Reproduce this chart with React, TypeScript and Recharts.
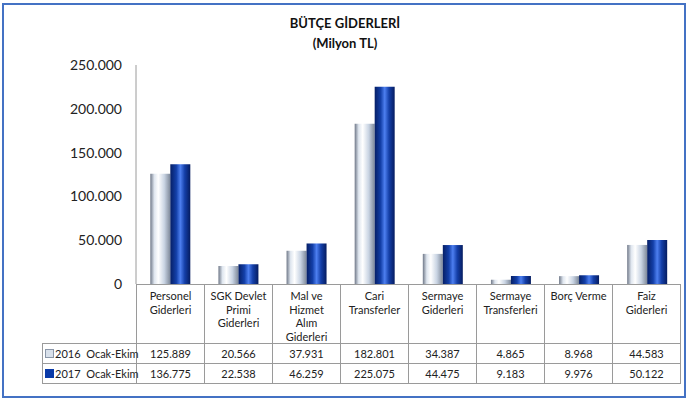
import React from "react"
import { BarChart, Bar, XAxis, YAxis } from "recharts"

const categories = [
  "Personel\nGiderleri",
  "SGK Devlet\nPrimi\nGiderleri",
  "Mal ve\nHizmet\nAlım\nGiderleri",
  "Cari\nTransferler",
  "Sermaye\nGiderleri",
  "Sermaye\nTransferleri",
  "Borç Verme",
  "Faiz\nGiderleri",
]
const values2016 = [125889, 20566, 37931, 182801, 34387, 4865, 8968, 44583]
const values2017 = [136775, 22538, 46259, 225075, 44475, 9183, 9976, 50122]
const seriesNames = ["2016  Ocak-Ekim", "2017  Ocak-Ekim"]
const yTicks = [0, 50000, 100000, 150000, 200000, 250000]

const FONT = "Lato, 'Open Sans', sans-serif"
const GRID = "#9a9a9a"

function fmt(v: number) {
  return String(v).replace(/\B(?=(\d{3})+(?!\d))/g, ".")
}

const data = categories.map((c, i) => ({ name: c, y2016: values2016[i], y2017: values2017[i] }))

const cell: React.CSSProperties = {
  border: `1px solid ${GRID}`,
  textAlign: "center",
  padding: 0,
  fontSize: 11,
  color: "#222",
}

function DataTable() {
  const rows = [values2016, values2017]
  return (
    <table
      style={{
        position: "absolute",
        left: 42,
        top: 284,
        width: 639,
        borderCollapse: "collapse",
        tableLayout: "fixed",
        fontFamily: FONT,
      }}
    >
      <colgroup>
        <col style={{ width: 94 }} />
        {categories.map((c) => (
          <col key={c} style={{ width: 68 }} />
        ))}
      </colgroup>
      <tbody>
        <tr style={{ height: 58 }}>
          <td style={{ borderRight: `1px solid ${GRID}` }} />
          {categories.map((c) => (
            <td key={c} style={{ ...cell, verticalAlign: "top", paddingTop: 4, lineHeight: "13.5px", whiteSpace: "pre-line" }}>
              {c}
            </td>
          ))}
        </tr>
        {rows.map((vals, r) => (
          <tr key={r} style={{ height: 20 }}>
            <td style={{ ...cell, textAlign: "left", paddingLeft: 2, whiteSpace: "pre" }}>
              <span
                style={{
                  display: "inline-block",
                  width: 7,
                  height: 7,
                  marginRight: 1,
                  background: r === 0 ? "#d8e0ea" : "#0a3aa8",
                  border: r === 0 ? "1px solid #8a96a8" : "1px solid #0a3aa8",
                }}
              />
              {seriesNames[r]}
            </td>
            {vals.map((v, i) => (
              <td key={i} style={cell}>
                {fmt(v)}
              </td>
            ))}
          </tr>
        ))}
      </tbody>
    </table>
  )
}

export default function App() {
  return (
    <div style={{ position: "absolute", left: 0, top: 0, width: 687, height: 400, background: "#fff", fontFamily: FONT }}>
      <div
        style={{
          position: "absolute",
          left: 2,
          top: 3,
          width: 680,
          height: 391,
          border: "2px solid #4472c4",
        }}
      />
      <div
        style={{
          position: "absolute",
          left: 0,
          top: 13,
          width: 690,
          textAlign: "center",
          fontWeight: "bold",
          fontSize: 13,
          lineHeight: "20px",
          color: "#111",
        }}
      >
        BÜTÇE GİDERLERİ
        <br />
        (Milyon TL)
      </div>
      <div style={{ position: "absolute", left: 0, top: 0 }}>
        <BarChart
          width={687}
          height={400}
          data={data}
          margin={{ top: 65, right: 6, bottom: 116, left: 76 }}
          barCategoryGap="21%"
          barGap={0}
        >
          <defs>
            <linearGradient id="g2016" x1="0" y1="0" x2="1" y2="0">
              <stop offset="0%" stopColor="#6f7888" />
              <stop offset="20%" stopColor="#dfe6ef" />
              <stop offset="40%" stopColor="#ffffff" />
              <stop offset="70%" stopColor="#c9d4e3" />
              <stop offset="100%" stopColor="#7d8899" />
            </linearGradient>
            <linearGradient id="g2017" x1="0" y1="0" x2="1" y2="0">
              <stop offset="0%" stopColor="#061f66" />
              <stop offset="30%" stopColor="#133fa8" />
              <stop offset="50%" stopColor="#4d7ff0" />
              <stop offset="72%" stopColor="#143fa8" />
              <stop offset="100%" stopColor="#051c60" />
            </linearGradient>
          </defs>
          <XAxis dataKey="name" hide />
          <YAxis
            domain={[0, 250000]}
            ticks={yTicks}
            width={60}
            tickLine={false}
            tickMargin={8}
            axisLine={{ stroke: GRID }}
            tickFormatter={fmt}
            tick={{ fontSize: 14, fill: "#222", fontFamily: FONT }}
            interval={0}
          />
          <Bar dataKey="y2016" name={seriesNames[0]} fill="url(#g2016)" isAnimationActive={false} />
          <Bar dataKey="y2017" name={seriesNames[1]} fill="url(#g2017)" isAnimationActive={false} />
        </BarChart>
      </div>
      <DataTable />
    </div>
  )
}
